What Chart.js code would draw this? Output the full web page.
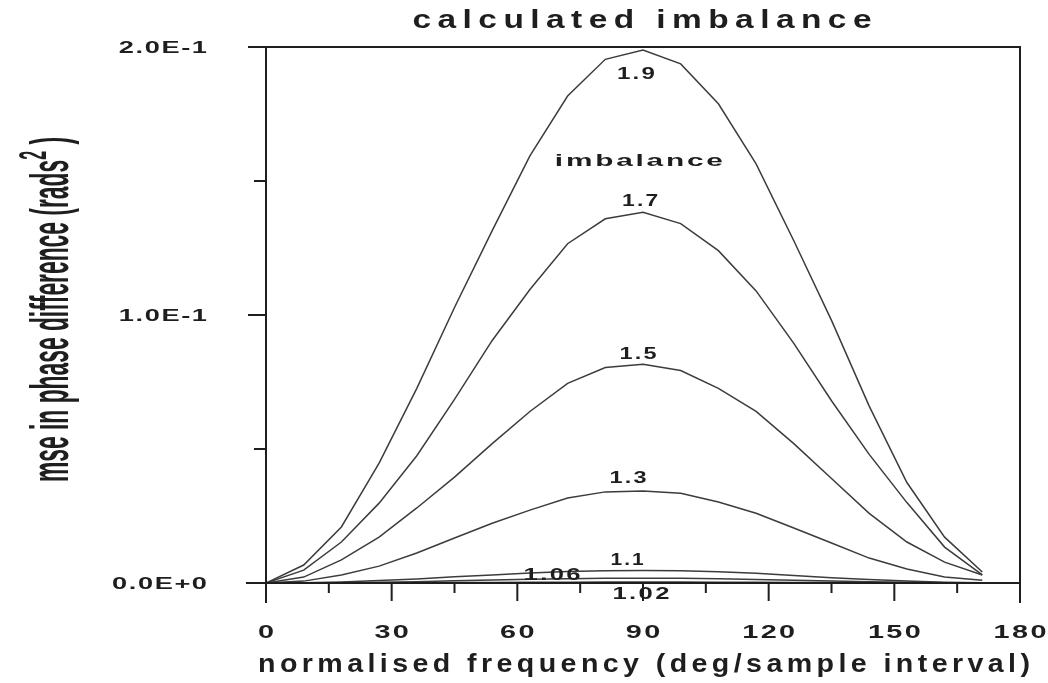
<!DOCTYPE html>
<html>
<head>
<meta charset="utf-8">
<script src="https://cdn.jsdelivr.net/npm/chart.js@4.4.1/dist/chart.umd.min.js"></script>
<style>
  html, body { margin: 0; padding: 0; background: #fff; }
  canvas { display: block; }
</style>
</head>
<body>
<canvas id="mseChart" width="1048" height="683"></canvas>
<script>
// normalised frequency (deg/sample interval)
const freqDeg = [0, 9, 18, 27, 36, 45, 54, 63, 72, 81, 90, 99, 108, 117, 126, 135, 144, 153, 162, 171];

// mse in phase difference, one array per imbalance
const mse19 = [0, 0.0067, 0.0209, 0.0447, 0.0726, 0.1028, 0.1315, 0.1594, 0.1817, 0.1954, 0.1989, 0.1937, 0.1788, 0.1564, 0.1277, 0.0980, 0.0660, 0.0375, 0.0171, 0.0041];
const mse17 = [0, 0.0048, 0.0153, 0.0298, 0.0475, 0.0685, 0.0905, 0.1095, 0.1266, 0.1359, 0.1383, 0.1341, 0.1240, 0.1090, 0.0894, 0.0680, 0.0480, 0.0300, 0.0134, 0.0030];
const mse15 = [0, 0.0022, 0.0086, 0.0171, 0.0280, 0.0395, 0.0520, 0.0640, 0.0745, 0.0804, 0.0816, 0.0793, 0.0726, 0.0640, 0.0520, 0.0390, 0.0260, 0.0153, 0.0078, 0.0030];
const mse13 = [0, 0.0007, 0.0030, 0.0063, 0.0112, 0.0168, 0.0223, 0.0272, 0.0317, 0.0340, 0.0343, 0.0335, 0.0302, 0.0260, 0.0205, 0.0149, 0.0093, 0.0052, 0.0022, 0.0010];
const mse11 = [0, 0.0001, 0.0004, 0.0009, 0.0015, 0.0023, 0.0030, 0.0037, 0.0043, 0.0046, 0.0047, 0.0046, 0.0042, 0.0036, 0.0028, 0.0020, 0.0013, 0.0007, 0.0003, 0.0001];
const mse106 = [0, 0.0000, 0.0001, 0.0003, 0.0005, 0.0008, 0.0011, 0.0014, 0.0016, 0.0018, 0.0018, 0.0018, 0.0016, 0.0013, 0.0010, 0.0007, 0.0005, 0.0003, 0.0001, 0.0000];
const mse102 = [0, 0.0000, 0.0000, 0.0001, 0.0001, 0.0002, 0.0002, 0.0003, 0.0003, 0.0004, 0.0004, 0.0004, 0.0003, 0.0003, 0.0002, 0.0002, 0.0001, 0.0001, 0.0000, 0.0000];

const seriesNames = ['1.9', '1.7', '1.5', '1.3', '1.1', '1.06', '1.02'];
const seriesValues = [mse19, mse17, mse15, mse13, mse11, mse106, mse102];

// axis ticks
const xTickValues = [0, 30, 60, 90, 120, 150, 180];
const xMinorTicks = [15, 45, 75, 105, 135, 165];
const yTickValues = [0, 0.1, 0.2];
const yTickLabels = ['0.0E+0', '1.0E-1', '2.0E-1'];
const yMinorTicks = [0.05, 0.15];

// curve labels, placed in data units
const curveLabels = [
  { text: '1.9', x: 88.3, y: 0.1903, w: 38 },
  { text: 'imbalance', x: 89.0, y: 0.1579, w: 168 },
  { text: '1.7', x: 89.3, y: 0.1430, w: 36 },
  { text: '1.5', x: 88.8, y: 0.0860, w: 37 },
  { text: '1.3', x: 86.4, y: 0.0395, w: 37 },
  { text: '1.1', x: 86.2, y: 0.0089, w: 33 },
  { text: '1.06', x: 68.3, y: 0.0034, w: 57 },
  { text: '1.02', x: 89.5, y: -0.0039, w: 57 }
];

const FONT = '"Liberation Sans", Arial, sans-serif';
const INK = '#1e1e1e';

function drawStretched(ctx, text, x, y, opts) {
  const size = opts.size;
  const weight = opts.weight || 'bold';
  const ls = opts.ls || 0;
  ctx.save();
  ctx.font = `${weight} ${size}px ${FONT}`;
  ctx.letterSpacing = ls + 'px';
  const raw = ctx.measureText(text).width - ls;
  const sx = opts.width ? opts.width / raw : (opts.k || 1);
  const vis = raw * sx;
  let left = x;
  if (opts.align === 'center') left = x - vis / 2;
  else if (opts.align === 'right') left = x - vis;
  ctx.translate(left, y);
  ctx.scale(sx, 1);
  ctx.textAlign = 'left';
  ctx.textBaseline = 'alphabetic';
  ctx.fillStyle = INK;
  ctx.fillText(text, 0, 0);
  ctx.restore();
}

const axesPlugin = {
  id: 'axesPlugin',
  afterDraw(chart) {
    const { ctx, chartArea: a, scales: { x, y } } = chart;
    ctx.save();
    ctx.strokeStyle = INK;
    ctx.lineWidth = 2;
    ctx.lineCap = 'butt';

    // frame and axes
    ctx.beginPath();
    ctx.moveTo(a.left, a.top);
    ctx.lineTo(a.left, a.bottom + 20);
    ctx.moveTo(a.left - 20, a.bottom);
    ctx.lineTo(a.right, a.bottom);
    ctx.moveTo(a.left - 6, a.top);
    ctx.lineTo(a.right, a.top);
    ctx.lineTo(a.right, a.bottom + 20);
    ctx.stroke();

    // x ticks
    ctx.beginPath();
    xTickValues.forEach(v => {
      const px = x.getPixelForValue(v);
      ctx.moveTo(px, a.bottom);
      ctx.lineTo(px, a.bottom + 18);
    });
    xMinorTicks.forEach(v => {
      const px = x.getPixelForValue(v);
      ctx.moveTo(px, a.bottom);
      ctx.lineTo(px, a.bottom + 10);
    });
    // y ticks
    yTickValues.forEach(v => {
      const py = y.getPixelForValue(v);
      ctx.moveTo(a.left, py);
      ctx.lineTo(a.left - 18, py);
    });
    yMinorTicks.forEach(v => {
      const py = y.getPixelForValue(v);
      ctx.moveTo(a.left, py);
      ctx.lineTo(a.left - 12, py);
    });
    ctx.stroke();

    // tick labels
    xTickValues.forEach(v => {
      drawStretched(ctx, String(v), x.getPixelForValue(v), 638, { size: 18, k: 1.6, ls: 1.5, align: 'center' });
    });
    yTickValues.forEach((v, i) => {
      drawStretched(ctx, yTickLabels[i], 207, y.getPixelForValue(v) + 6, { size: 17, k: 1.6, ls: 1, align: 'right' });
    });

    // curve labels
    curveLabels.forEach(l => {
      drawStretched(ctx, l.text, x.getPixelForValue(l.x), y.getPixelForValue(l.y) + 6, { size: 16, width: l.w, ls: 1.5, align: 'center' });
    });

    // titles
    drawStretched(ctx, 'calculated imbalance', 642, 28, { size: 26, width: 459, ls: 5, align: 'center' });
    drawStretched(ctx, 'normalised frequency (deg/sample interval)', 644, 672, { size: 26, width: 772, ls: 4, align: 'center' });

    // y title, rotated, condensed
    ctx.translate(68, 482);
    ctx.rotate(-Math.PI / 2);
    ctx.fillStyle = INK;
    ctx.textBaseline = 'alphabetic';
    const main = 'mse in phase difference (rads';
    ctx.font = `bold 54px ${FONT}`;
    const wMain = ctx.measureText(main).width;
    const wTail = ctx.measureText(' )').width;
    ctx.font = `bold 38px ${FONT}`;
    const wSup = ctx.measureText('2').width;
    const k = 345 / (wMain + wSup + wTail);
    ctx.scale(k, 1);
    ctx.font = `bold 54px ${FONT}`;
    ctx.fillText(main, 0, 0);
    ctx.fillText(' )', wMain + wSup, 0);
    ctx.font = `bold 38px ${FONT}`;
    ctx.fillText('2', wMain, -22);
    ctx.restore();
  }
};

const ctx = document.getElementById('mseChart').getContext('2d');

new Chart(ctx, {
  type: 'line',
  data: {
    datasets: seriesValues.map((vals, i) => ({
      label: seriesNames[i],
      data: freqDeg.map((d, j) => ({ x: d, y: vals[j] })),
      borderColor: '#3c3c3c',
      borderWidth: 1.5,
      pointRadius: 0,
      tension: 0,
      fill: false
    }))
  },
  options: {
    responsive: false,
    animation: false,
    layout: { padding: { left: 0, right: 28, top: 47, bottom: 0 } },
    plugins: {
      legend: { display: false },
      tooltip: { enabled: false }
    },
    scales: {
      x: {
        type: 'linear',
        min: 0,
        max: 180,
        ticks: { display: false },
        grid: { display: false, drawTicks: false },
        border: { display: false },
        afterFit: (s) => { s.height = 100; }
      },
      y: {
        min: 0,
        max: 0.2,
        ticks: { display: false },
        grid: { display: false, drawTicks: false },
        border: { display: false },
        afterFit: (s) => { s.width = 266; }
      }
    }
  },
  plugins: [axesPlugin]
});
</script>
</body>
</html>
